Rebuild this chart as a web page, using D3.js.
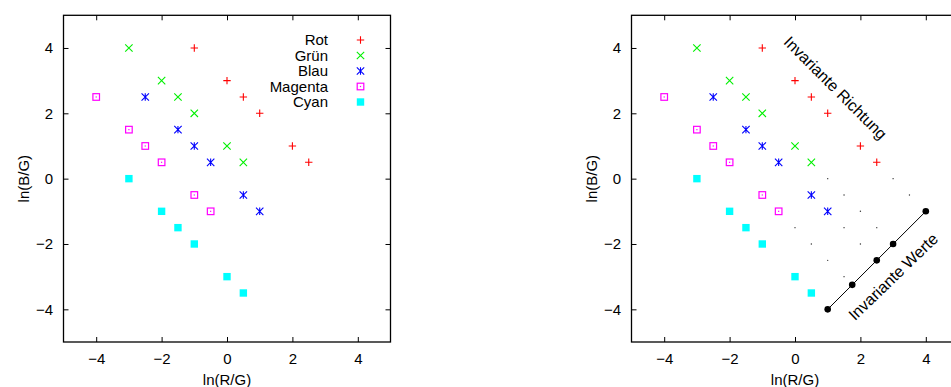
<!DOCTYPE html>
<html>
<head>
<meta charset="utf-8">
<script src="https://cdn.jsdelivr.net/npm/d3@7"></script>
<style>
  body { margin: 0; background: #fff; }
  svg text { font-family: "Liberation Sans", Arial, Helvetica, sans-serif; font-size: 15px; fill: #000; }
  .axis path { display: none; }
  .axis line { stroke: #000; stroke-width: 1; }
</style>
</head>
<body>
<svg id="chart" width="951" height="387"></svg>
<script>
// series values: [ln(R/G), ln(B/G)]
var rot     = [[-1, 4], [0, 3], [0.5, 2.5], [1, 2], [2, 1], [2.5, 0.5]];
var gruen   = [[-3, 4], [-2, 3], [-1.5, 2.5], [-1, 2], [0, 1], [0.5, 0.5]];
var blau    = [[-2.5, 2.5], [-1.5, 1.5], [-1, 1], [-0.5, 0.5], [0.5, -0.5], [1, -1]];
var magenta = [[-4, 2.5], [-3, 1.5], [-2.5, 1], [-2, 0.5], [-1, -0.5], [-0.5, -1]];
var cyan    = [[-3, 0], [-2, -1], [-1.5, -1.5], [-1, -2], [0, -3], [0.5, -3.5]];

var seriesNames = ['Rot', 'Grün', 'Blau', 'Magenta', 'Cyan'];
var seriesData = [rot, gruen, blau, magenta, cyan];

// right panel extras
var invariantWerte = [[1, -4], [1.75, -3.25], [2.5, -2.5], [3, -2], [4, -1]];
var gridDots = [[1, 0], [3, 0], [1.5, -0.5], [3.5, -0.5], [2, -1], [0, -1.5], [1.5, -1.5], [2.5, -1.5],
                [0.5, -2], [2, -2], [1, -2.5], [1.5, -3]];
var labelRichtung = { text: 'Invariante Richtung', x: 1.24, y: 2.78, angle: 45 };
var labelWerte = { text: 'Invariante Werte', x: 3.0, y: -3.0, angle: -44 };

var tickValues = [-4, -2, 0, 2, 4];
var domain = [-5, 5];
var xTitle = 'ln(R/G)', yTitle = 'ln(B/G)';

var colors = ['#ff0000', '#00f000', '#0000ff', '#ff00ff', '#00ffff'];

var svg = d3.select('#chart');

function symbolPath(kind, s) {
  if (kind === 0) return 'M' + (-s) + ',0H' + s + 'M0,' + (-s) + 'V' + s;
  if (kind === 1) return 'M' + (-s) + ',' + (-s) + 'L' + s + ',' + s + 'M' + (-s) + ',' + s + 'L' + s + ',' + (-s);
  if (kind === 2) return 'M' + (-s) + ',' + (-s) + 'L' + s + ',' + s + 'M' + (-s) + ',' + s + 'L' + s + ',' + (-s) +
                          'M0,' + (-s) + 'V' + s;
  return null;
}

function drawSymbol(g, kind, x, y, color) {
  var s = 3.7;
  if (kind <= 2) {
    g.append('path').attr('d', symbolPath(kind, s)).attr('transform', 'translate(' + x + ',' + y + ')')
      .attr('stroke', color).attr('stroke-width', 1.1).attr('fill', 'none');
  } else if (kind === 3) {
    g.append('rect').attr('x', x - 3.3).attr('y', y - 3.3).attr('width', 6.6).attr('height', 6.6)
      .attr('fill', 'none').attr('stroke', color).attr('stroke-width', 1.2);
    g.append('rect').attr('x', x - 0.6).attr('y', y - 0.6).attr('width', 1.2).attr('height', 1.2).attr('fill', color);
  } else {
    g.append('rect').attr('x', x - 3.7).attr('y', y - 3.7).attr('width', 7.4).attr('height', 7.4).attr('fill', color);
  }
}

function panel(left, withLegend, withExtras) {
  var width = 327, top = 15.3, height = 326.7;
  var x = d3.scaleLinear().domain(domain).range([left, left + width]);
  var y = d3.scaleLinear().domain(domain).range([top + height, top]);
  var g = svg.append('g');

  // ticks (inward, mirrored)
  g.append('g').attr('class', 'axis').attr('transform', 'translate(0,' + y(-5) + ')')
    .call(d3.axisBottom(x).tickValues(tickValues).tickSize(-5).tickPadding(11));
  g.append('g').attr('class', 'axis').attr('transform', 'translate(0,' + y(5) + ')')
    .call(d3.axisTop(x).tickValues(tickValues).tickSize(-5).tickFormat(''));
  g.append('g').attr('class', 'axis').attr('transform', 'translate(' + x(-5) + ',0)')
    .call(d3.axisLeft(y).tickValues(tickValues).tickSize(-5).tickPadding(10.5));
  g.append('g').attr('class', 'axis').attr('transform', 'translate(' + x(5) + ',0)')
    .call(d3.axisRight(y).tickValues(tickValues).tickSize(-5).tickFormat(''));
  g.selectAll('.axis text').style('font-size', '15px').attr('fill', '#000')
    .style('font-family', '"Liberation Sans", Arial, sans-serif');

  g.append('rect').attr('x', x(-5)).attr('y', y(5)).attr('width', width).attr('height', height)
    .attr('fill', 'none').attr('stroke', '#000').attr('stroke-width', 1.3);

  g.append('text').attr('x', x(0)).attr('y', 385).attr('text-anchor', 'middle').text(xTitle);
  g.append('text').attr('transform', 'translate(' + (left - 39.5) + ',' + y(0) + ') rotate(-90)')
    .attr('text-anchor', 'middle').attr('dy', '0.35em').text(yTitle);

  seriesData.forEach(function(data, i) {
    data.forEach(function(d) {
      drawSymbol(g, i, x(d[0]), y(d[1]), colors[i]);
    });
  });

  if (withLegend) {
    seriesNames.forEach(function(name, i) {
      var cy = 40 + i * 15.5;
      g.append('text').attr('x', 328).attr('y', cy).attr('dy', '0.35em').attr('text-anchor', 'end').text(name);
      drawSymbol(g, i, 360.5, cy, colors[i]);
    });
  }

  if (withExtras) {
    g.selectAll('.gdot').data(gridDots).enter().append('circle')
      .attr('cx', function(d) { return x(d[0]); })
      .attr('cy', function(d) { return y(d[1]); })
      .attr('r', 0.7).attr('fill', '#333');

    var line = d3.line().x(function(d) { return x(d[0]); }).y(function(d) { return y(d[1]); });
    g.append('path').datum(invariantWerte).attr('d', line).attr('fill', 'none').attr('stroke', '#000').attr('stroke-width', 1);
    g.selectAll('.wdot').data(invariantWerte).enter().append('circle')
      .attr('cx', function(d) { return x(d[0]); })
      .attr('cy', function(d) { return y(d[1]); })
      .attr('r', 3.3).attr('fill', '#000');

    [labelRichtung, labelWerte].forEach(function(l) {
      g.append('text')
        .attr('transform', 'translate(' + x(l.x) + ',' + y(l.y) + ') rotate(' + l.angle + ')')
        .attr('text-anchor', 'middle').attr('dy', '0.35em').style('font-size', '16px').text(l.text);
    });
  }
}

panel(63.5, true, false);
panel(631.5, false, true);
</script>
</body>
</html>
